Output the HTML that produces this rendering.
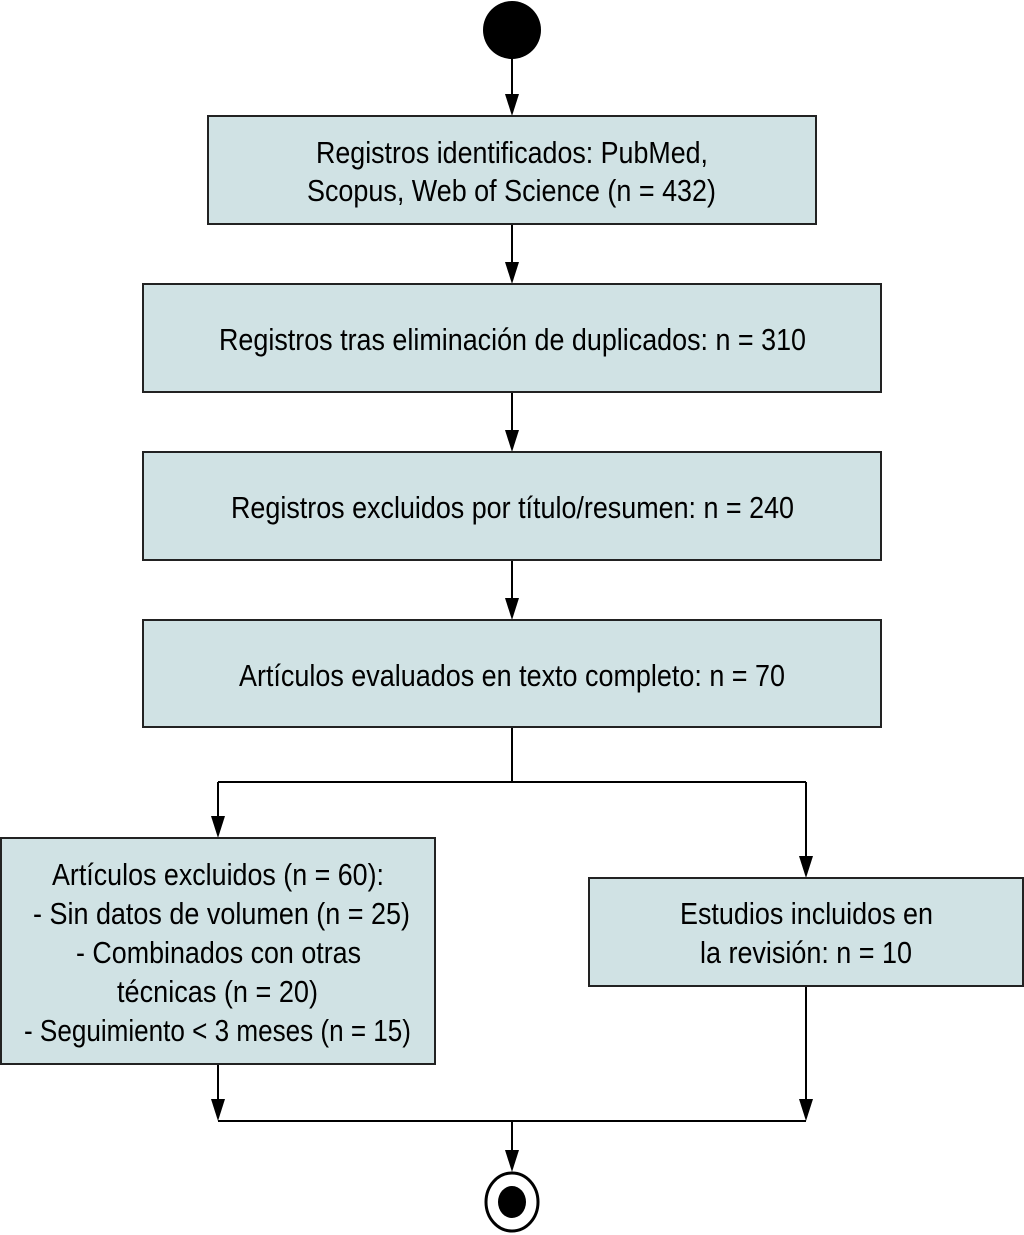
<!DOCTYPE html>
<html><head><meta charset="utf-8"><style>html,body{margin:0;padding:0;background:#fff}svg{display:block}</style></head>
<body>
<svg width="1024" height="1235" viewBox="0 0 1024 1235" xmlns="http://www.w3.org/2000/svg">
<g stroke="#000" stroke-width="2" fill="none">
<line x1="512" y1="58" x2="512" y2="100"/>
<line x1="512" y1="224" x2="512" y2="268"/>
<line x1="512" y1="392" x2="512" y2="436"/>
<line x1="512" y1="560" x2="512" y2="604"/>
<polyline points="512,727 512,782"/>
<polyline points="218,782 806,782"/>
<line x1="218" y1="782" x2="218" y2="822"/>
<line x1="806" y1="782" x2="806" y2="862"/>
<line x1="218" y1="1064" x2="218" y2="1106"/>
<line x1="806" y1="986" x2="806" y2="1106"/>
<polyline points="218,1121 806,1121"/>
<line x1="512" y1="1121" x2="512" y2="1156"/>
</g>
<g fill="#000">
<path d="M505,94 L519,94 L512,116 Z"/>
<path d="M505,262 L519,262 L512,284 Z"/>
<path d="M505,430 L519,430 L512,452 Z"/>
<path d="M505,598 L519,598 L512,620 Z"/>
<path d="M211,816 L225,816 L218,838 Z"/>
<path d="M799,856 L813,856 L806,878 Z"/>
<path d="M211,1099 L225,1099 L218,1121 Z"/>
<path d="M799,1099 L813,1099 L806,1121 Z"/>
<path d="M505,1150 L519,1150 L512,1172 Z"/>
</g>
<circle cx="512" cy="30" r="29" fill="#000"/>
<ellipse cx="512" cy="1202" rx="26" ry="29" fill="#fff" stroke="#000" stroke-width="3"/>
<ellipse cx="512" cy="1202" rx="14" ry="16" fill="#000"/>
<g fill="#d0e2e4" stroke="#222" stroke-width="2">
<rect x="208" y="116" width="608" height="108"/>
<rect x="143" y="284" width="738" height="108"/>
<rect x="143" y="452" width="738" height="108"/>
<rect x="143" y="620" width="738" height="107"/>
<rect x="1" y="838" width="434" height="226"/>
<rect x="589" y="878" width="434" height="108"/>
</g>
<g font-family="Liberation Sans, sans-serif" font-size="31" fill="#000">
<text x="316" y="163" textLength="392" lengthAdjust="spacingAndGlyphs">Registros identificados: PubMed,</text>
<text x="307" y="201" textLength="409" lengthAdjust="spacingAndGlyphs">Scopus, Web of Science (n = 432)</text>
<text x="219" y="350" textLength="587" lengthAdjust="spacingAndGlyphs">Registros tras eliminación de duplicados: n = 310</text>
<text x="231" y="518" textLength="563" lengthAdjust="spacingAndGlyphs">Registros excluidos por título/resumen: n = 240</text>
<text x="239" y="686" textLength="546" lengthAdjust="spacingAndGlyphs">Artículos evaluados en texto completo: n = 70</text>
<text x="52" y="885" textLength="332" lengthAdjust="spacingAndGlyphs">Artículos excluidos (n = 60):</text>
<text x="33" y="924" textLength="377" lengthAdjust="spacingAndGlyphs">- Sin datos de volumen (n = 25)</text>
<text x="76" y="963" textLength="285" lengthAdjust="spacingAndGlyphs">- Combinados con otras</text>
<text x="117" y="1002" textLength="201" lengthAdjust="spacingAndGlyphs">técnicas (n = 20)</text>
<text x="24" y="1041" textLength="387" lengthAdjust="spacingAndGlyphs">- Seguimiento &lt; 3 meses (n = 15)</text>
<text x="680" y="924" textLength="253" lengthAdjust="spacingAndGlyphs">Estudios incluidos en</text>
<text x="700" y="963" textLength="212" lengthAdjust="spacingAndGlyphs">la revisión: n = 10</text>
</g>
</svg>
</body></html>
